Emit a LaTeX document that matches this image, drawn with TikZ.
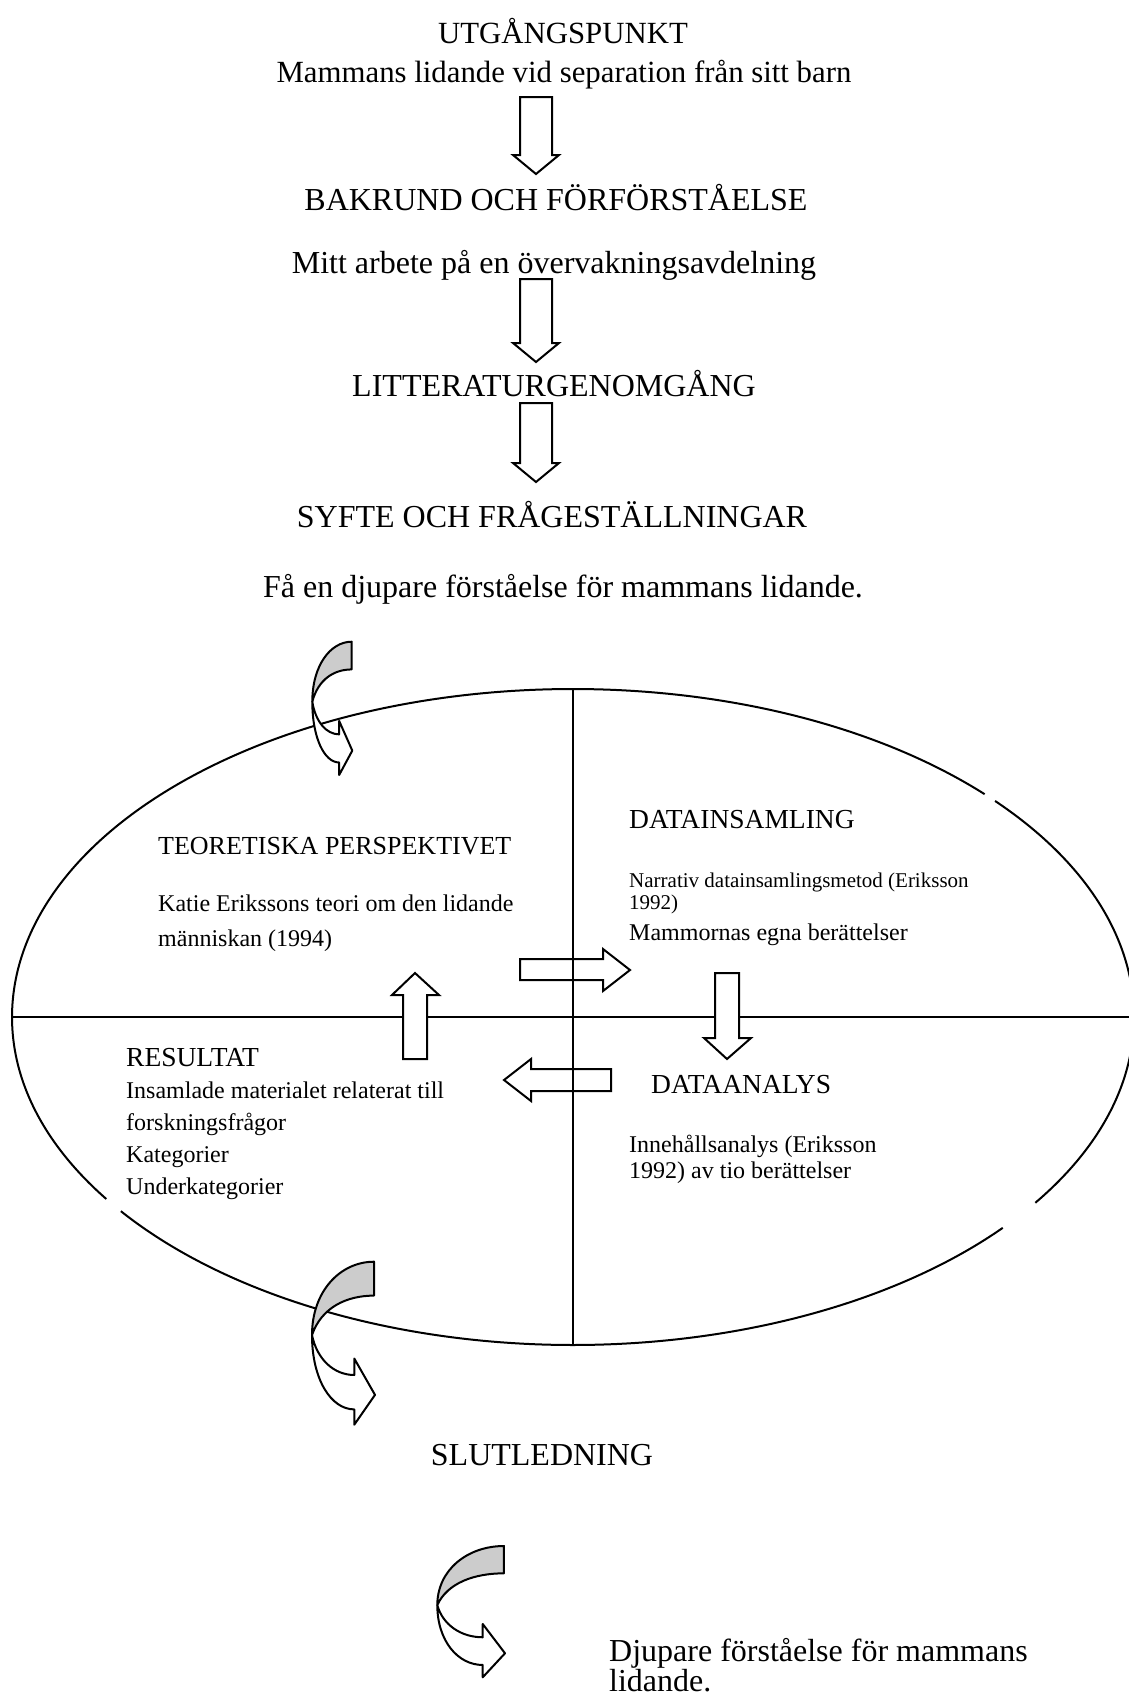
\documentclass[tikz,border=0pt]{standalone}
\usepackage{fontspec}
\setmainfont{Liberation Serif}
\newcommand\dnarrow[4]{\draw[blk] (#1-16,-#2) -- (#1+16,-#2) -- (#1+16,-#3) -- (#1+23,-#3) -- (#1,-#4) -- (#1-23,-#3) -- (#1-16,-#3) -- cycle;}
\newcommand\curvarr[4]{%
  \begin{scope}[shift={(#1,-#2)},xscale=#3,yscale=-#4]
    \draw[crescent] (0.985,0) .. controls (0.45,0) and (0,0.18) .. (0,0.45)
      .. controls (0.15,0.28) and (0.55,0.208) .. (0.985,0.208) -- cycle;
    \draw[blk,line join=round] (0,0.45) .. controls (0,0.72) and (0.3,0.906) .. (0.671,0.906)
      -- (0.671,1) -- (1,0.817) -- (0.671,0.594) -- (0.671,0.695)
      .. controls (0.35,0.695) and (0.08,0.6) .. (0,0.45) -- cycle;
  \end{scope}}
\begin{document}
\begin{tikzpicture}[x=1pt,y=1pt,
  big/.style={font=\fontsize{32}{38}\selectfont, inner sep=0pt},
  bigs/.style={font=\fontsize{30.8}{37}\selectfont, inner sep=0pt},
  head/.style={font=\fontsize{26}{31}\selectfont, inner sep=0pt, anchor=base west},
  headl/.style={font=\fontsize{27.5}{33}\selectfont, inner sep=0pt, anchor=base west},
  body/.style={font=\fontsize{24}{29}\selectfont, inner sep=0pt, anchor=base west},
  small/.style={font=\fontsize{21}{25}\selectfont, inner sep=0pt, anchor=base west},
  ln/.style={line width=2pt},
  blk/.style={line width=2pt, fill=white, draw=black},
  crescent/.style={line width=2pt, fill=gray!40, draw=black, line join=round}]
\useasboundingbox (0,0) rectangle (1129,-1695);

% top texts
\node[bigs,anchor=base] (t1) at (563,-43) {UTGÅNGSPUNKT};
\node[bigs,anchor=base] (t2) at (564,-82) {Mammans lidande vid separation från sitt barn};
\node[big,anchor=base] (t3) at (556,-210) {BAKRUND OCH FÖRFÖRSTÅELSE};
\node[big,anchor=base] (t4) at (554,-273) {Mitt arbete på en övervakningsavdelning};
\node[big,anchor=base] (t5) at (554,-396) {LITTERATURGENOMGÅNG};
\node[big,anchor=base] (t6) at (552,-527) {SYFTE OCH FRÅGESTÄLLNINGAR};
\node[big,anchor=base] (t7) at (563,-597) {Få en djupare förståelse för mammans lidande.};

% top block arrows
\dnarrow{536}{97}{155}{174}
\dnarrow{536}{279}{343}{362}
\dnarrow{536}{403}{463}{482}

% ellipse (with small gaps as in the original)
\draw[ln] (573,-1017) ++(-34.5:561pt and 328pt) arc[start angle=-34.5, end angle=41.2, x radius=561pt, y radius=328pt];
\draw[ln] (573,-1017) ++(42.8:561pt and 328pt) arc[start angle=42.8, end angle=213.7, x radius=561pt, y radius=328pt];
\draw[ln] (573,-1017) ++(216.3:561pt and 328pt) arc[start angle=216.3, end angle=320, x radius=561pt, y radius=328pt];
\draw[ln] (12,-1017) -- (1129,-1017);

% quadrant block arrows
\draw[blk] (520,-959) -- (603,-959) -- (603,-949) -- (630,-970) -- (603,-991) -- (603,-980) -- (520,-980) -- cycle;
\draw[blk] (403,-1059) -- (403,-995) -- (392,-995) -- (415,-973) -- (439,-995) -- (427,-995) -- (427,-1059) -- cycle;
\draw[blk] (611,-1069) -- (531,-1069) -- (531,-1059) -- (504,-1080) -- (531,-1101) -- (531,-1091) -- (611,-1091) -- cycle;
\draw[blk] (715,-973) -- (739,-973) -- (739,-1038) -- (751,-1038) -- (727,-1059) -- (704,-1038) -- (715,-1038) -- cycle;

\draw[ln] (573,-689) -- (573,-1345);

% curved arrows
\curvarr{312.3}{641.7}{40}{133.3}
\curvarr{312}{1261.7}{63}{163}
\curvarr{437.3}{1546}{67.7}{131.3}

% quadrant texts
\node[head] (q1) at (158,-854) {TEORETISKA PERSPEKTIVET};
\node[body] (q2) at (158,-911) {Katie Erikssons teori om den lidande};
\node[body] (q3) at (158,-946) {människan (1994)};
\node[headl] (d1) at (629,-828) {DATAINSAMLING};
\node[small] (d2) at (629,-887) {Narrativ datainsamlingsmetod (Eriksson};
\node[small] (d3) at (629,-909) {1992)};
\node[body] (d4) at (629,-940) {Mammornas egna berättelser};
\node[headl] (r1) at (126,-1066) {RESULTAT};
\node[body] (r2) at (126,-1098) {Insamlade materialet relaterat till};
\node[body] (r3) at (126,-1130) {forskningsfrågor};
\node[body] (r4) at (126,-1162) {Kategorier};
\node[body] (r5) at (126,-1194) {Underkategorier};
\node[headl] (a1) at (651,-1093) {DATAANALYS};
\node[body] (a2) at (629,-1152) {Innehållsanalys (Eriksson};
\node[body] (a3) at (629,-1178) {1992) av tio berättelser};

% bottom
\node[big,anchor=base] (s1) at (542,-1465) {SLUTLEDNING};
\node[big,anchor=base west] (f1) at (609,-1661) {Djupare förståelse för mammans};
\node[big,anchor=base west] (f2) at (609,-1691) {lidande.};
\end{tikzpicture}
\end{document}
